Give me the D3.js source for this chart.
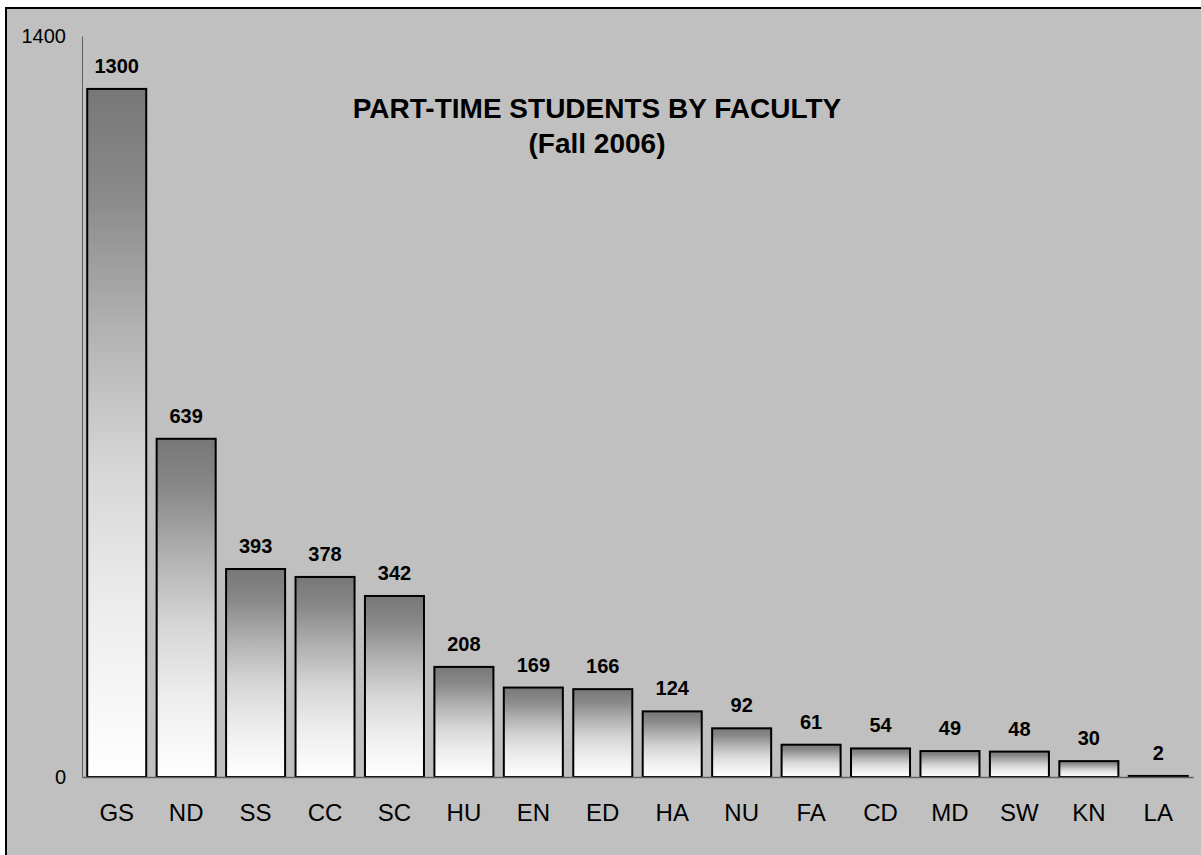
<!DOCTYPE html>
<html>
<head>
<meta charset="utf-8">
<script src="https://cdn.jsdelivr.net/npm/d3@7"></script>
<style>
  html, body { margin: 0; padding: 0; background: #fff; }
  svg { display: block; font-family: Arial, 'Liberation Sans', sans-serif; }
</style>
</head>
<body>
<div id="chart"></div>
<script>
// faculty codes and part-time head counts
const faculties = ['GS', 'ND', 'SS', 'CC', 'SC', 'HU', 'EN', 'ED', 'HA', 'NU', 'FA', 'CD', 'MD', 'SW', 'KN', 'LA'];
const students = [1300, 639, 393, 378, 342, 208, 169, 166, 124, 92, 61, 54, 49, 48, 30, 2];
const yTicks = [0, 1400];
const titleLines = ['PART-TIME STUDENTS BY FACULTY', '(Fall 2006)'];

const totalWidth = 1201;
const totalHeight = 855;
const margin = { top: 36, right: 8, bottom: 78, left: 82 };
const width = totalWidth - margin.left - margin.right;
const height = totalHeight - margin.top - margin.bottom;

const root = d3.select('#chart')
    .append('svg')
    .attr('width', totalWidth)
    .attr('height', totalHeight);

// gray frame, only left & top edges visible (cropped)
root.append('rect')
    .attr('x', 6).attr('y', 8)
    .attr('width', totalWidth + 10).attr('height', totalHeight + 10)
    .attr('fill', '#c0c0c0')
    .attr('stroke', '#000')
    .attr('stroke-width', 2);

const grad = root.append('defs')
    .append('linearGradient')
    .attr('id', 'barFill')
    .attr('x1', 0).attr('y1', 0).attr('x2', 0).attr('y2', 1);
[[0, '#777777'], [0.15, '#898989'], [0.35, '#b2b2b2'], [0.55, '#d6d6d6'], [0.75, '#ececec'], [1, '#ffffff']]
    .forEach(([o, c]) => grad.append('stop').attr('offset', o).attr('stop-color', c));

const svg = root.append('g')
    .attr('transform', 'translate(' + margin.left + ',' + margin.top + ')');

const x = d3.scaleBand()
    .domain(faculties)
    .range([0, width])
    .paddingInner(0.15)
    .paddingOuter(0.075);

const y = d3.scaleLinear()
    .domain([0, 1400])
    .range([height, 0]);

// y axis: only 0 and 1400 labelled, no tick marks
const yAxis = svg.append('g')
    .call(d3.axisLeft(y).tickValues(yTicks).tickFormat(d3.format('d')).tickSize(0).tickPadding(16));
yAxis.select('.domain').attr('stroke', '#606060').attr('stroke-width', 1);
yAxis.selectAll('text')
    .attr('fill', '#000')
    .style('font-size', '20px')
    .style('font-family', 'Arial, Liberation Sans, sans-serif');

svg.selectAll('rect.bar')
    .data(students)
    .enter()
    .append('rect')
    .attr('class', 'bar')
    .attr('x', (d, i) => x(faculties[i]))
    .attr('y', (d) => y(d))
    .attr('width', x.bandwidth())
    .attr('height', (d) => height - y(d))
    .attr('fill', 'url(#barFill)')
    .attr('stroke', '#000')
    .attr('stroke-width', 2);

// x axis baseline + category labels
const xAxis = svg.append('g')
    .attr('transform', 'translate(0,' + height + ')')
    .call(d3.axisBottom(x).tickSize(0).tickPadding(27).tickSizeOuter(0));
xAxis.select('.domain').attr('stroke', '#606060').attr('stroke-width', 1.5);
xAxis.selectAll('text')
    .attr('fill', '#000')
    .style('font-size', '24px')
    .style('font-family', 'Arial, Liberation Sans, sans-serif');

svg.selectAll('text.val')
    .data(students)
    .enter()
    .append('text')
    .attr('class', 'val')
    .attr('x', (d, i) => x(faculties[i]) + x.bandwidth() / 2)
    .attr('y', (d) => y(d) - 16)
    .attr('text-anchor', 'middle')
    .style('font-size', '20px')
    .style('font-weight', 'bold')
    .text((d) => d);

svg.selectAll('text.title')
    .data(titleLines)
    .enter()
    .append('text')
    .attr('class', 'title')
    .attr('x', 597 - margin.left)
    .attr('y', (d, i) => 118 - margin.top + i * 35)
    .attr('text-anchor', 'middle')
    .style('font-size', '28px')
    .style('font-weight', 'bold')
    .text((d) => d);
</script>
</body>
</html>
